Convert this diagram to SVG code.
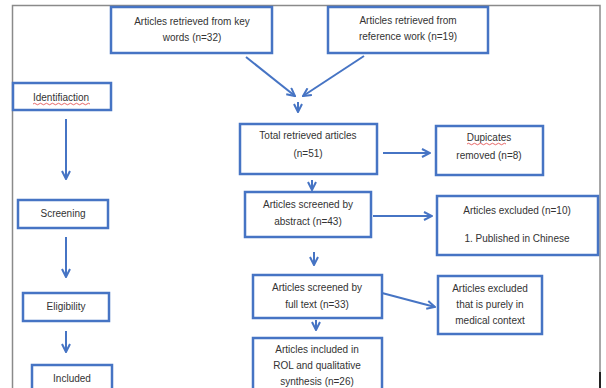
<svg xmlns="http://www.w3.org/2000/svg" width="606" height="388" viewBox="0 0 606 388">
<defs>
<style>
.box{fill:#fff;stroke:#4674c4;stroke-width:2.5}
.arr{fill:none;stroke:#4674c4;stroke-width:2;marker-end:url(#ah)}
.t{font-family:"Liberation Sans",Arial,sans-serif;font-size:10px;fill:#333;text-anchor:middle}
.sq{fill:none;stroke:#e04040;stroke-width:0.8}
.frame{fill:none;stroke:#8a8a8a;stroke-width:1.5}
</style>
<marker id="ah" viewBox="0 0 10 10" refX="9" refY="5" markerWidth="10" markerHeight="10" markerUnits="userSpaceOnUse" orient="auto">
<path d="M1,1 L9,5 L1,9" fill="none" stroke="#4674c4" stroke-width="2"/>
</marker>
</defs>
<rect x="0" y="0" width="606" height="388" fill="#fff"/>
<g id="frame">
<path class="frame" d="M12.5,388 V5.5 H600 V388"/>
<line x1="600" y1="372" x2="600" y2="388" stroke="#222" stroke-width="2"/>
</g>
<g id="connectors">
<line class="arr" x1="246" y1="57" x2="295" y2="96"/>
<line class="arr" x1="364" y1="56" x2="303" y2="96"/>
<line class="arr" x1="298" y1="102" x2="298" y2="112"/>
<line class="arr" x1="66" y1="119" x2="66" y2="179"/>
<line class="arr" x1="66" y1="237" x2="66" y2="277"/>
<line class="arr" x1="66" y1="331" x2="66" y2="352"/>
<line class="arr" x1="383" y1="153" x2="430" y2="153"/>
<line class="arr" x1="312" y1="180" x2="312" y2="190"/>
<line class="arr" x1="373" y1="216" x2="432" y2="216"/>
<line class="arr" x1="314" y1="252" x2="314" y2="265"/>
<line class="arr" x1="382" y1="293" x2="435" y2="307"/>
<line class="arr" x1="316" y1="320" x2="316" y2="330"/>
</g>
<g id="n_keywords">
<rect class="box" x="111" y="7" width="161" height="46"/>
<text class="t" x="192" y="24.5">Articles retrieved from key</text>
<text class="t" x="192" y="40.5">words (n=32)</text>
</g>
<g id="n_reference">
<rect class="box" x="328" y="7" width="160" height="46"/>
<text class="t" x="408" y="24">Articles retrieved from</text>
<text class="t" x="408" y="40">reference work (n=19)</text>
</g>
<g id="n_identification">
<rect class="box" x="13" y="83" width="98" height="27"/>
<text class="t" x="61" y="100.5">Identifiaction</text>
<path class="sq" d="M33,104 q1.5,-1.5 3,0 t3,0 t3,0 t3,0 t3,0 t3,0 t3,0 t3,0 t3,0 t3,0 t3,0 t3,0 t3,0 t3,0 t3,0 t3,0 t3,0 t3,0 t3,0"/>
</g>
<g id="n_screening">
<rect class="box" x="18" y="200" width="90" height="28"/>
<text class="t" x="63" y="217">Screening</text>
</g>
<g id="n_eligibility">
<rect class="box" x="23" y="293" width="86" height="28"/>
<text class="t" x="66" y="310">Eligibility</text>
</g>
<g id="n_included">
<rect class="box" x="32" y="365" width="80" height="30"/>
<text class="t" x="72" y="381.5">Included</text>
</g>
<g id="n_total">
<rect class="box" x="240" y="124" width="137" height="50"/>
<text class="t" x="308" y="139">Total retrieved articles</text>
<text class="t" x="308" y="157">(n=51)</text>
</g>
<g id="n_duplicates">
<rect class="box" x="436" y="126" width="107" height="49"/>
<text class="t" x="489" y="141">Dupicates</text>
<path class="sq" d="M467,144 q1.5,-1.5 3,0 t3,0 t3,0 t3,0 t3,0 t3,0 t3,0 t3,0 t3,0 t3,0 t3,0 t3,0 t3,0"/>
<text class="t" x="489" y="159">removed  (n=8)</text>
</g>
<g id="n_abstract">
<rect class="box" x="245" y="192" width="126" height="45"/>
<text class="t" x="308" y="208">Articles screened by</text>
<text class="t" x="308" y="224.5">abstract (n=43)</text>
</g>
<g id="n_excluded10">
<rect class="box" x="437" y="196" width="161" height="59"/>
<text class="t" x="517" y="213.5">Articles excluded  (n=10)</text>
<text class="t" x="517" y="241.5">1. Published  in Chinese</text>
</g>
<g id="n_fulltext">
<rect class="box" x="253" y="275" width="129" height="43"/>
<text class="t" x="317" y="291">Articles screened by</text>
<text class="t" x="317" y="307.5">full text (n=33)</text>
</g>
<g id="n_medical">
<rect class="box" x="438" y="276" width="104" height="58"/>
<text class="t" x="490" y="291.5">Articles excluded</text>
<text class="t" x="490" y="307.5">that is purely  in</text>
<text class="t" x="490" y="323.5">medical context</text>
</g>
<g id="n_final">
<rect class="box" x="253" y="338" width="129" height="55"/>
<text class="t" x="317" y="353">Articles included  in</text>
<text class="t" x="317" y="369">ROL and qualitative</text>
<text class="t" x="317" y="385">synthesis (n=26)</text>
</g>
</svg>
